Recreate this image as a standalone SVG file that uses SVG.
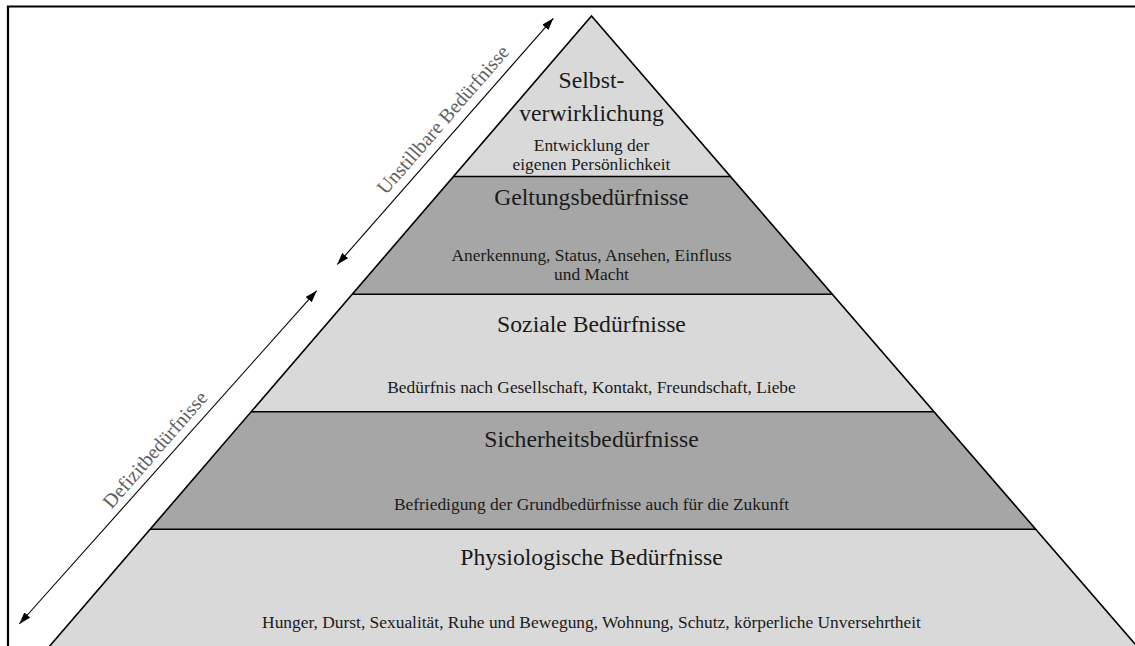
<svg xmlns="http://www.w3.org/2000/svg" width="1135" height="646" viewBox="0 0 1135 646">
  <defs>
    <marker id="head" viewBox="0 0 12 8" refX="12" refY="4" markerWidth="12" markerHeight="8" markerUnits="userSpaceOnUse" orient="auto-start-reverse">
      <path d="M0,0 L12,4 L0,8 Z" fill="#000"/>
    </marker>
    <style>
      .light { fill: #d9d9d9; stroke: none; }
      .dark { fill: #a6a6a6; stroke: none; }
      .edge { fill: none; stroke: #000; stroke-width: 1.6; }
      .head { font-family: "Liberation Serif", "Times New Roman", serif; font-size: 23.7px; fill: #1a1a1a; text-anchor: middle; }
      .body { font-family: "Liberation Serif", "Times New Roman", serif; font-size: 17.4px; fill: #1a1a1a; text-anchor: middle; }
      .side { font-family: "Liberation Serif", "Times New Roman", serif; font-size: 20px; fill: #606060; text-anchor: middle; }
      .arrow { fill: none; stroke: #000; stroke-width: 1.1; marker-start: url(#head); marker-end: url(#head); }
    </style>
  </defs>

  <rect width="1135" height="646" fill="#fff"/>
  <!-- outer frame (open on the right and bottom) -->
  <path d="M8,650 L8,6.5 L1140,6.5" fill="none" stroke="#000" stroke-width="2.2"/>

  <!-- pyramid levels, top to bottom -->
  <g id="level-selbstverwirklichung">
    <polygon class="light" points="591.5,16 730.4,176.5 453.5,176.5"/>
    <text class="head" x="591.5" y="88">Selbst-</text>
    <text class="head" x="591.5" y="121">verwirklichung</text>
    <text class="body" x="591.5" y="151">Entwicklung der</text>
    <text class="body" x="591.5" y="170">eigenen Persönlichkeit</text>
  </g>

  <g id="level-geltung">
    <polygon class="dark" points="453.5,176.5 730.4,176.5 832.3,294.3 352.2,294.3"/>
    <text class="head" x="591.5" y="205">Geltungsbedürfnisse</text>
    <text class="body" x="591.5" y="261">Anerkennung, Status, Ansehen, Einfluss</text>
    <text class="body" x="591.5" y="280">und Macht</text>
  </g>

  <g id="level-sozial">
    <polygon class="light" points="352.2,294.3 832.3,294.3 933.9,411.7 251.2,411.7"/>
    <text class="head" x="591.5" y="332">Soziale Bedürfnisse</text>
    <text class="body" x="591.5" y="393">Bedürfnis nach Gesellschaft, Kontakt, Freundschaft, Liebe</text>
  </g>

  <g id="level-sicherheit">
    <polygon class="dark" points="251.2,411.7 933.9,411.7 1035.7,529.3 150,529.3"/>
    <text class="head" x="591.5" y="447">Sicherheitsbedürfnisse</text>
    <text class="body" x="591.5" y="510">Befriedigung der Grundbedürfnisse auch für die Zukunft</text>
  </g>

  <g id="level-physiologisch">
    <polygon class="light" points="150,529.3 1035.7,529.3 1140.2,650 46.3,650"/>
    <text class="head" x="591.5" y="565">Physiologische Bedürfnisse</text>
    <text class="body" x="591.5" y="628">Hunger, Durst, Sexualität, Ruhe und Bewegung, Wohnung, Schutz, körperliche Unversehrtheit</text>
  </g>

  <!-- outline and level dividers -->
  <g id="outline">
    <path class="edge" d="M46.3,650 L591.5,16 L1140.2,650"/>
    <path class="edge" d="M453.5,176.5 H730.4 M352.2,294.3 H832.3 M251.2,411.7 H933.9 M150,529.3 H1035.7"/>
  </g>

  <!-- range arrows along the left flank -->
  <g id="connectors">
    <line class="arrow" x1="337.3" y1="264.5" x2="553.3" y2="18.3"/>
    <line class="arrow" x1="19.3" y1="624" x2="316.7" y2="290.7"/>
  </g>

  <g id="label-unstillbar">
    <text class="side" transform="translate(448,124) rotate(-49)">Unstillbare Bedürfnisse</text>
  </g>
  <g id="label-defizit">
    <text class="side" transform="translate(160,454) rotate(-49)">Defizitbedürfnisse</text>
  </g>
</svg>
